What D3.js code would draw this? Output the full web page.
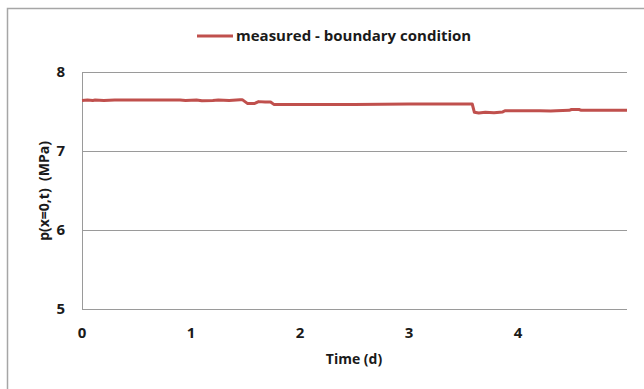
<!DOCTYPE html>
<html>
<head>
<meta charset="utf-8">
<script src="https://cdn.jsdelivr.net/npm/d3@7"></script>
<style>
  html, body { margin: 0; padding: 0; background: #fff; }
  text { font-family: "Open Sans", "Liberation Sans", sans-serif; font-weight: bold; fill: #1a1a1a; }
</style>
</head>
<body>
<script>
// measured pressure at x=0
var timeDays = [0, 0.05, 0.1, 0.12, 0.2, 0.3, 0.35, 0.9, 0.95, 1.05, 1.1, 1.2, 1.25, 1.35, 1.45, 1.47, 1.52, 1.58, 1.62, 1.68, 1.73, 1.76, 2.5, 3.0, 3.4, 3.58, 3.6, 3.64, 3.7, 3.78, 3.86, 3.88, 4.2, 4.3, 4.35, 4.47, 4.49, 4.56, 4.58, 5.0];
var pressure = [7.64, 7.645, 7.64, 7.645, 7.64, 7.645, 7.645, 7.645, 7.64, 7.645, 7.635, 7.64, 7.645, 7.64, 7.65, 7.65, 7.60, 7.60, 7.625, 7.62, 7.62, 7.59, 7.59, 7.595, 7.595, 7.595, 7.49, 7.48, 7.49, 7.485, 7.495, 7.51, 7.51, 7.505, 7.51, 7.515, 7.525, 7.525, 7.515, 7.515];
var xTicks = [0, 1, 2, 3, 4];
var yTicks = [5, 6, 7, 8];
var seriesName = "measured - boundary condition";

var W = 644, H = 389;
var m = { left: 82, right: 627, top: 72, bottom: 309 };

var svg = d3.select("body").append("svg").attr("width", W).attr("height", H);

// outer chart frame (right and bottom edges are cut off)
svg.append("rect")
  .attr("x", 7.5).attr("y", 8.5).attr("width", 700).attr("height", 500)
  .attr("fill", "none").attr("stroke", "#a6a6a6").attr("stroke-width", 1.5);

var x = d3.scaleLinear().domain([0, 5]).range([m.left, m.right]);
var y = d3.scaleLinear().domain([5, 8]).range([m.bottom, m.top]);

// gridlines
svg.append("g").selectAll("line").data(yTicks).join("line")
  .attr("x1", m.left).attr("x2", m.right)
  .attr("y1", function (d) { return Math.round(y(d)) + 0.5; })
  .attr("y2", function (d) { return Math.round(y(d)) + 0.5; })
  .attr("stroke", "#9a9a9a").attr("stroke-width", 1);

// left axis line
svg.append("line")
  .attr("x1", m.left + 0.5).attr("x2", m.left + 0.5)
  .attr("y1", m.top).attr("y2", m.bottom)
  .attr("stroke", "#9a9a9a");

// y tick labels
svg.append("g").selectAll("text").data(yTicks).join("text")
  .attr("x", 65).attr("y", function (d) { return y(d) + 5; })
  .attr("text-anchor", "end").attr("font-size", 15)
  .text(function (d) { return d; });

// x tick labels
svg.append("g").selectAll("text").data(xTicks).join("text")
  .attr("x", function (d) { return x(d); }).attr("y", 338)
  .attr("text-anchor", "middle").attr("font-size", 15)
  .text(function (d) { return d; });

// axis titles
svg.append("text")
  .attr("x", 354).attr("y", 364)
  .attr("text-anchor", "middle").attr("font-size", 14)
  .text("Time (d)");

svg.append("text")
  .attr("transform", "translate(49,191)rotate(-90)")
  .attr("text-anchor", "middle").attr("font-size", 14)
  .attr("xml:space", "preserve")
  .text("p(x=0,t)  (MPa)");

// series
var pts = timeDays.map(function (t, i) { return [t, pressure[i]]; });
var line = d3.line()
  .x(function (d) { return x(d[0]); })
  .y(function (d) { return y(d[1]); });

svg.append("path")
  .datum(pts)
  .attr("d", line)
  .attr("fill", "none")
  .attr("stroke", "#c0504d")
  .attr("stroke-width", 3)
  .attr("stroke-linejoin", "round");

// legend
var lg = svg.append("g").attr("transform", "translate(197,36)");
lg.append("line").attr("x1", 0).attr("x2", 36).attr("y1", 0).attr("y2", 0)
  .attr("stroke", "#c0504d").attr("stroke-width", 3);
lg.append("text").attr("x", 39).attr("y", 5).attr("font-size", 15)
  .text(seriesName);
</script>
</body>
</html>
